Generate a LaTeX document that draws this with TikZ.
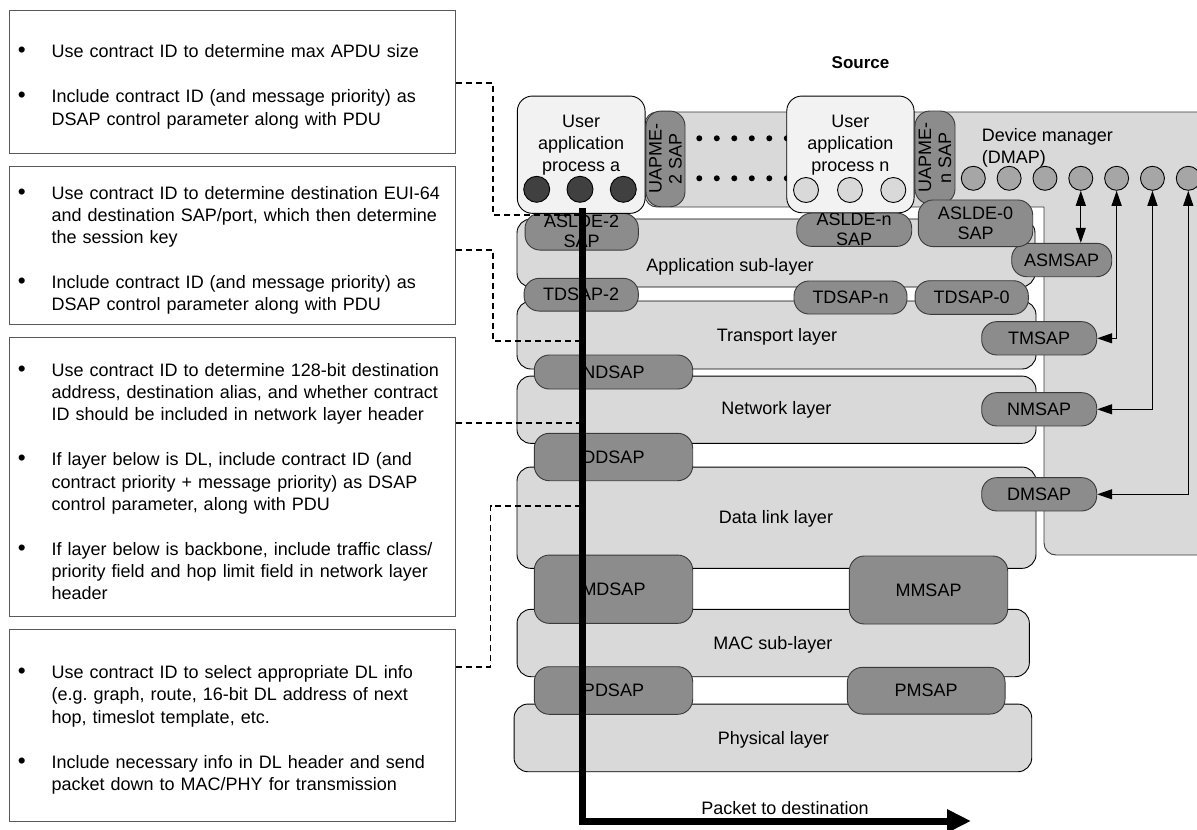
\documentclass[tikz,border=0pt]{standalone}
\usepackage{fontspec}
\setmainfont{Liberation Sans}
\usetikzlibrary{arrows.meta}
\frenchspacing

\definecolor{layerfill}{HTML}{D9D9D9}
\definecolor{sapfill}{HTML}{8C8C8C}
\definecolor{sapline}{HTML}{3A3A3A}
\definecolor{appfill}{HTML}{F2F2F2}
\definecolor{darkdot}{HTML}{404040}
\definecolor{dmdotfill}{HTML}{A6A6A6}
\definecolor{noteline}{HTML}{595959}

% bullet paragraph with hanging indent
\newcommand\bpt[1]{\par\noindent\hangindent=37.4pt\hangafter=1%
  \makebox[37.4pt][l]{\hspace{3.6pt}\scalebox{1.25}{\textbullet}}#1\par}
\newcommand\gap{\vskip 22.8pt}

\tikzset{
  every node/.style={font=\fontsize{18}{21.7}\selectfont},
  layer/.style={draw=black, fill=layerfill, rounded corners=14pt, line width=0.9pt, inner sep=0pt},
  sap/.style={draw=sapline, fill=sapfill, rounded corners=15pt, line width=0.9pt,
    inner sep=0pt, align=center, font=\fontsize{18}{20}\selectfont},
  appbox/.style={draw=black, fill=appfill, rounded corners=15pt, line width=0.9pt, inner sep=0pt},
  dotdark/.style={circle, draw=black, fill=darkdot, line width=0.9pt, minimum size=26pt, inner sep=0pt},
  dotlight/.style={circle, draw=black, fill=layerfill, line width=0.9pt, minimum size=25pt, inner sep=0pt},
  dotdm/.style={circle, draw=black, fill=dmdotfill, line width=0.9pt, minimum size=24pt, inner sep=0pt},
  seqdot/.style={circle, fill=black, minimum size=6pt, inner sep=0pt},
  dmback/.style={draw=sapline, fill=layerfill, line width=0.9pt},
  note/.style={draw=noteline, line width=1pt, inner xsep=5pt, inner ysep=0pt,
    text width=436pt, minimum width=446pt, align=left, font=\fontsize{18}{22.2}\selectfont},
  conn/.style={line width=1.8pt, dash pattern=on 6pt off 4pt},
  mgmt/.style={line width=1.2pt, {Triangle[length=15pt,width=10pt]}-{Triangle[length=15pt,width=10pt]}},
  packet/.style={line width=7pt, -{Triangle[length=24pt,width=22pt]}},
}

\begin{document}
\begin{tikzpicture}[x=1pt,y=-1pt]
\useasboundingbox (0,0) rectangle (1197,830);

% device manager backdrop (L-shaped)
\draw[dmback, rounded corners=12pt] (1044,207) -- (645,207) -- (645,112) -- (1215,112)
  -- (1215,555) -- (1044,555) -- (1044,207);

% sequence dots between the user application processes
\foreach \k in {0,...,5} {
  \node[seqdot] (ua\k) at ({699.3+17.5*\k},138.3) {};
  \node[seqdot] (ub\k) at ({699.3+17.5*\k},178.3) {};
}

% protocol layers
\node[layer, minimum width=518pt, minimum height=68pt] (app) at (776,253) {};
\node[layer, minimum width=519pt, minimum height=68pt] (trans) at (776.5,335) {};
\node[layer, minimum width=519pt, minimum height=67.3pt] (net) at (776.5,409.7) {};
\node[layer, minimum width=519pt, minimum height=101.3pt] (dl) at (776.5,517.7) {};
\node[layer, minimum width=512.3pt, minimum height=67.4pt] (mac) at (773.2,643) {};
\node[layer, minimum width=517.7pt, minimum height=67.7pt] (phy) at (772.9,737.9) {};

\node (app-t) at (730,267) {Application sub-layer};
\node (trans-t) at (777,337) {Transport layer};
\node (net-t) at (776.3,410.2) {Network layer};
\node (dl-t) at (776,519) {Data link layer};
\node (mac-t) at (772.8,645.2) {MAC sub-layer};
\node (phy-t) at (773.3,740.2) {Physical layer};

% data service access points
\node[sap, minimum width=113.3pt, minimum height=36.7pt] (aslde2) at (581.7,231.7) {ASLDE-2\\SAP};
\node[sap, minimum width=115pt, minimum height=33.4pt] (asldeN) at (854.2,229.7) {ASLDE-n\\SAP};
\node[sap, minimum width=114.3pt, minimum height=32.7pt] (tdsap2) at (581.2,294.7) {TDSAP-2};
\node[sap, minimum width=113pt, minimum height=33pt] (tdsapN) at (850.5,297.5) {TDSAP-n};
\node[sap, minimum width=113.3pt, minimum height=33.6pt] (tdsap0) at (971.7,297.5) {TDSAP-0};
\node[sap, minimum width=158.4pt, minimum height=34pt] (ndsap) at (613.5,372) {NDSAP};
\node[sap, minimum width=158.4pt, minimum height=47.4pt] (ddsap) at (613.5,457) {DDSAP};
\node[sap, minimum width=158.4pt, minimum height=68.3pt] (mdsap) at (613.5,589.2) {MDSAP};
\node[sap, minimum width=158.4pt, minimum height=47.6pt] (pdsap) at (613.5,690.5) {PDSAP};
\node[sap, minimum width=158.4pt, minimum height=68pt] (mmsap) at (928.5,590) {MMSAP};
\node[sap, minimum width=157.7pt, minimum height=46.7pt] (pmsap) at (926.2,690.7) {PMSAP};

% management service access points
\node[sap, minimum width=100pt, minimum height=33.4pt] (asmsap) at (1061.7,260) {ASMSAP};
\node[sap, minimum width=115pt, minimum height=33.3pt] (tmsap) at (1039.2,338.3) {TMSAP};
\node[sap, minimum width=115pt, minimum height=33.3pt] (nmsap) at (1039.2,409.3) {NMSAP};
\node[sap, minimum width=115pt, minimum height=33.3pt] (dmsap) at (1039.2,494.3) {DMSAP};

% user application processes
\node[appbox, minimum width=127.7pt, minimum height=117.3pt] (appa) at (581.2,154.7) {};
\node[align=center] (appa-t) at (581.2,145) {User\\application\\process a};
\node[dotdark] (ca1) at (536.7,189.3) {};
\node[dotdark] (ca2) at (580,189.3) {};
\node[dotdark] (ca3) at (623.3,189.3) {};

\node[appbox, minimum width=127.3pt, minimum height=116.7pt] (appn) at (850.4,154.4) {};
\node[align=center] (appn-t) at (850.4,145) {User\\application\\process n};
\node[dotlight] (cn1) at (806,190) {};
\node[dotlight] (cn2) at (850,190) {};
\node[dotlight] (cn3) at (893.3,190) {};

\node[sap, rotate=90, minimum width=95.7pt, minimum height=39pt] (uapme2) at (665.5,158.9) {UAPME-\\2 SAP};
\node[sap, rotate=90, minimum width=93pt, minimum height=40pt] (uapmeN) at (935,157.5) {UAPME-\\n SAP};
\node[sap, minimum width=114.4pt, minimum height=46.7pt] (aslde0) at (975.5,223.3) {ASLDE-0\\SAP};

% device manager
\node[anchor=west, align=left, inner sep=0pt] (dmap) at (981.7,148) {Device manager\\(DMAP)};
\foreach \i in {1,...,7}
  \node[dotdm] (dm\i) at ({973.3+35.83*(\i-1)},178.3) {};

\draw[mgmt] (dm4.south) -- (dm4.south |- asmsap.north);
\draw[mgmt] (tmsap.east) -| (dm5.south);
\draw[mgmt] (nmsap.east) -| (dm6.south);
\draw[mgmt] (dmsap.east) -| (dm7.south);

\node[font=\bfseries\fontsize{17}{20}\selectfont] (src) at (860.5,62.7) {Source};

% explanatory notes
\node[note, minimum height=143.3pt] (n1) at (232.3,82.3) {%
\bpt{Use contract ID to determine max APDU size}\gap
\bpt{Include contract ID (and message priority) as\newline DSAP control parameter along with PDU}\vskip 3pt};

\node[note, minimum height=158.3pt] (n2) at (232.3,245.8) {%
\bpt{Use contract ID to determine destination EUI-64\newline and destination SAP/port, which then determine\newline the session key}\gap
\bpt{Include contract ID (and message priority) as\newline DSAP control parameter along with PDU}\vskip 2pt};

\node[note, minimum height=279.4pt] (n3) at (232.3,477) {%
\bpt{Use contract ID to determine 128-bit destination\newline address, destination alias, and whether contract\newline ID should be included in network layer header}\gap
\bpt{If layer below is DL, include contract ID (and\newline contract priority + message priority) as DSAP\newline control parameter, along with PDU}\gap
\bpt{If layer below is backbone, include traffic class/\newline priority field and hop limit field in network layer\newline header}\vskip 8pt};

\node[note, minimum height=191.7pt] (n4) at (232.3,725.2) {%
\bpt{Use contract ID to select appropriate DL info\newline (e.g. graph, route, 16-bit DL address of next\newline hop, timeslot template, etc.}\gap
\bpt{Include necessary info in DL header and send\newline packet down to MAC/PHY for transmission}\vskip 5pt};

% points where each note applies along the packet path
\coordinate (c1) at (582.5,215);
\coordinate (c2) at (582.5,340.7);
\coordinate (c3) at (582.5,423.3);
\coordinate (c4) at (582.5,505.7);

\draw[conn] ([yshift=-1pt]n1.east) -- ++(37.4,0) |- (c1);
\draw[conn] ([yshift=-4.2pt]n2.east) -- ++(37.4,0) |- (c2);
\draw[conn] ([yshift=53.7pt]n3.east) -- (c3);
\draw[conn] ([yshift=58.5pt]n4.east) -- ++(34.7,0) |- (c4);

% packet path down the stack
\coordinate (pktop) at (582.5,208);
\coordinate (pkbend) at (582.5,821);
\coordinate (pkend) at (971,821);
\draw[packet] (pktop) -- (pkbend) -- (pkend);
\node (pk-t) at (785,808) {Packet to destination};
\end{tikzpicture}
\end{document}
